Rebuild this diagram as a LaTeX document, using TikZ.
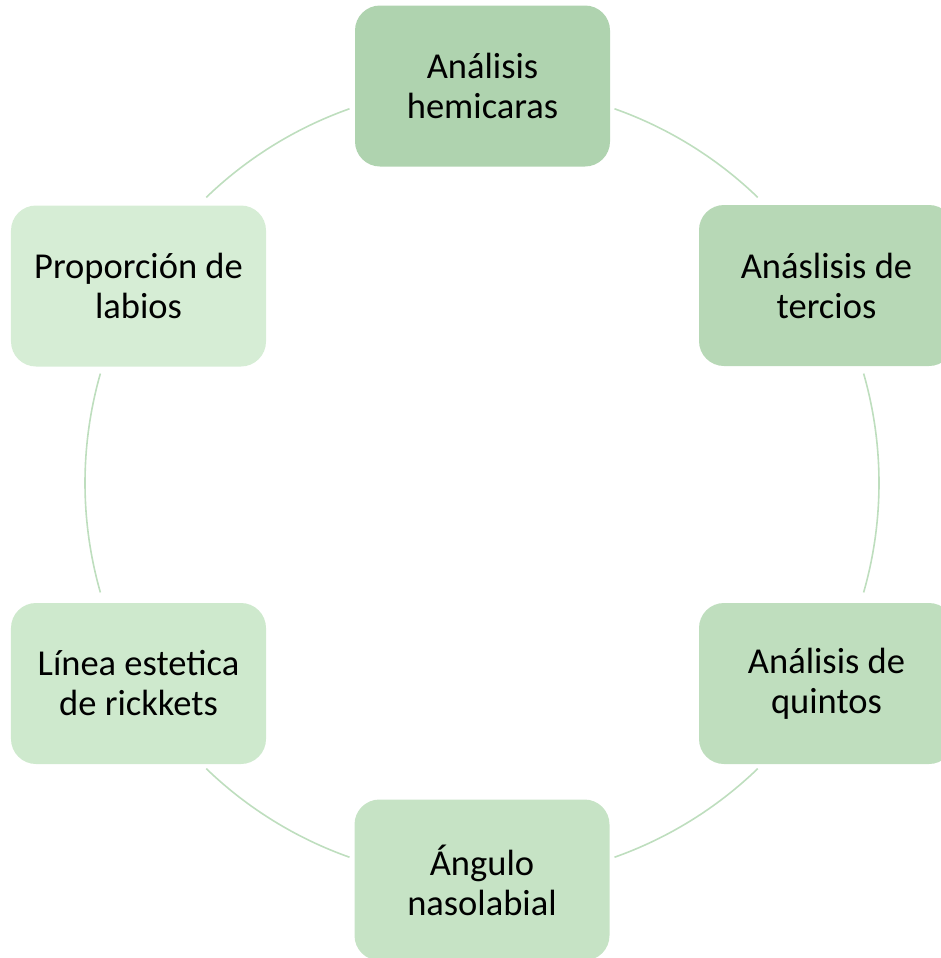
\documentclass[tikz,border=0pt]{standalone}
\usepackage{fontspec}
\setmainfont{Carlito}
\definecolor{c1}{RGB}{175,211,175}
\definecolor{c2}{RGB}{183,216,182}
\definecolor{c3}{RGB}{191,222,190}
\definecolor{c4}{RGB}{198,227,197}
\definecolor{c5}{RGB}{206,233,205}
\definecolor{c6}{RGB}{214,237,213}
\definecolor{arcc}{RGB}{190,222,190}
\begin{document}
\begin{tikzpicture}[x=1bp,y=1bp,
  box/.style={rounded corners=25bp, minimum width=255bp, minimum height=161bp,
    align=center, inner sep=0pt, text=black,
    font=\fontsize{36.5bp}{40bp}\selectfont},
  ring/.style={draw=arcc, line width=1.6bp}]
\useasboundingbox (0,0) rectangle (941,-958);
\clip (0,0) rectangle (941,-958);
\coordinate (c) at (482,-483);
\node[box, fill=c1] (n1) at (482.5,-86) {Análisis\\hemicaras};
\node[box, fill=c2] (n2) at (826.5,-285.5) {Anáslisis de\\tercios};
\node[box, fill=c3] (n3) at (826.5,-683.5) {Análisis de\\quintos};
\node[box, fill=c4] (n4) at (482,-880) {Ángulo\\nasolabial};
\node[box, fill=c5] (n5) at (138.5,-683.5) {Línea estetica\\de rickkets};
\node[box, fill=c6] (n6) at (138.5,-286) {Proporción de\\labios};
\draw[ring] (c) ++(70.5:397) arc[start angle=70.5, end angle=46, radius=397];
\draw[ring] (c) ++(16:397) arc[start angle=16, end angle=-16, radius=397];
\draw[ring] (c) ++(-46:397) arc[start angle=-46, end angle=-70.5, radius=397];
\draw[ring] (c) ++(-109.5:397) arc[start angle=-109.5, end angle=-134, radius=397];
\draw[ring] (c) ++(196:397) arc[start angle=196, end angle=164, radius=397];
\draw[ring] (c) ++(134:397) arc[start angle=134, end angle=109.5, radius=397];
\end{tikzpicture}
\end{document}
